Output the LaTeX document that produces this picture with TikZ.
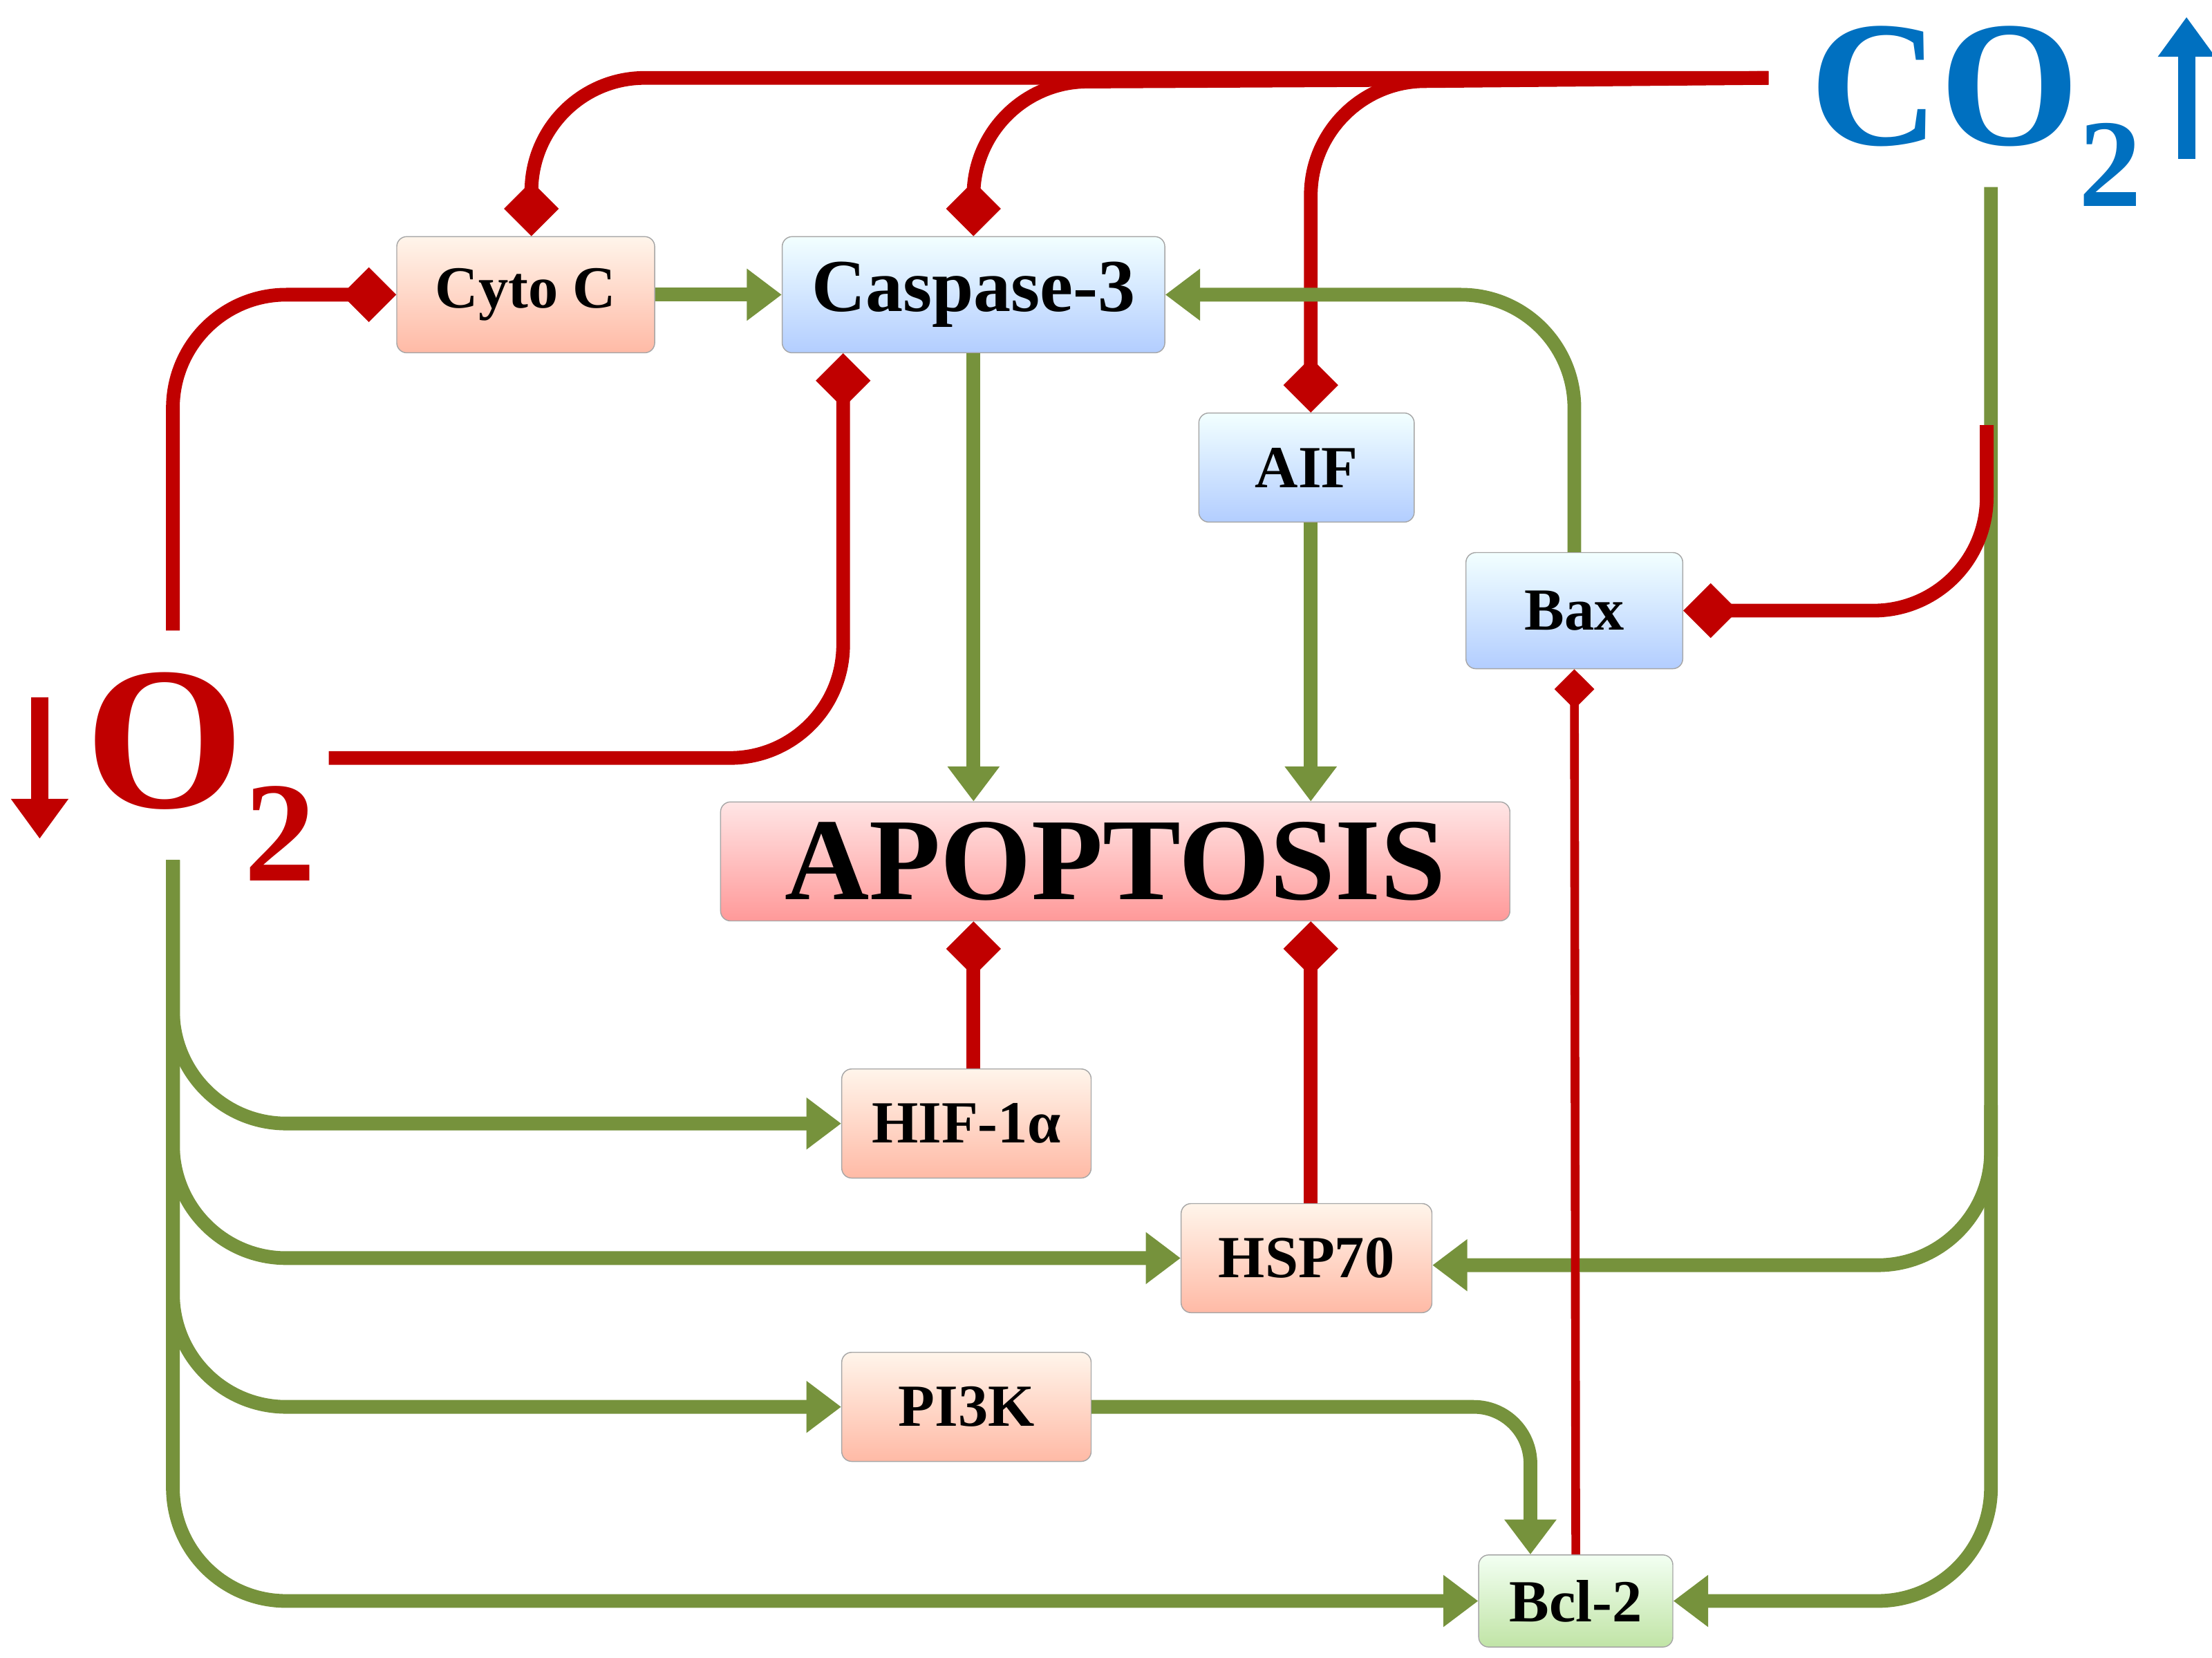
\documentclass[tikz,border=0pt]{standalone}
\usepackage{fontspec}
\setmainfont{Liberation Serif}
\usetikzlibrary{arrows.meta}
\definecolor{rd}{RGB}{192,0,0}
\definecolor{gr}{RGB}{118,146,60}
\definecolor{bl}{RGB}{0,112,192}
\begin{document}
\begin{tikzpicture}[x=0.02cm,y=-0.02cm,
 box/.style={draw=black!35,rounded corners=4pt,font=\bfseries\fontsize{24}{24}\selectfont,inner sep=0pt},
 org/.style={box,top color=orange!8,bottom color=orange!45!red!35},
 blu/.style={box,top color=cyan!5,bottom color=cyan!35!blue!30},
 inh/.style={draw=rd,line width=5.5pt,-{Diamond[length=22pt,width=22pt]},rounded corners=1.6cm},
 act/.style={draw=gr,line width=5.5pt,-{Triangle[length=14pt,width=20pt]},rounded corners=1.6cm}]
\useasboundingbox (0,0) rectangle (1561,1170);
\node[org,minimum width=182*0.02cm,minimum height=82*0.02cm] (cyto) at (371,208) {Cyto C};
\node[blu,minimum width=270*0.02cm,minimum height=82*0.02cm,font=\bfseries\fontsize{30}{30}\selectfont] (casp) at (687,208) {Caspase-3};
\node[blu,minimum width=152*0.02cm,minimum height=77*0.02cm] (aif) at (922,330) {AIF};
\node[blu,minimum width=153*0.02cm,minimum height=82*0.02cm] (bax) at (1111,431) {Bax};
\node[box,top color=red!10,bottom color=red!40,minimum width=557*0.02cm,minimum height=84*0.02cm,font=\bfseries\fontsize{47}{47}\selectfont] (apo) at (787,608) {APOPTOSIS};
\node[org,minimum width=176*0.02cm,minimum height=77*0.02cm] (hif) at (682,793) {HIF-1α};
\node[org,minimum width=177*0.02cm,minimum height=77*0.02cm] (hsp) at (922,888) {HSP70};
\node[org,minimum width=176*0.02cm,minimum height=77*0.02cm] (pi3k) at (682,993) {PI3K};
\node[box,top color=green!5,bottom color=green!40!olive!35,minimum width=137*0.02cm,minimum height=65*0.02cm] (bcl) at (1112,1130) {Bcl-2};
\node[text=rd,font=\bfseries\fontsize{82}{82}\selectfont,inner sep=0pt] (o2) at (142,548) {O\textsubscript{2}};
\node[text=bl,font=\bfseries\fontsize{72}{72}\selectfont,inner sep=0pt] (co2) at (1395,82) {CO\textsubscript{2}};
\coordinate (dA) at (28,492); \coordinate (dB) at (28,592);
\draw[rd,line width=7pt,-{Triangle[length=16pt,width=22pt]}] (dA) -- (dB);
\coordinate (uA) at (1543,112); \coordinate (uB) at (1543,12);
\draw[bl,line width=7pt,-{Triangle[length=16pt,width=22pt]}] (uA) -- (uB);
% CO2 inhibitions
\coordinate (c0) at (1248,55);
\draw[inh] (c0) -- (375,55) -- (cyto.north -| 375,0);
\draw[inh] (c0) -- (687,58) -- (casp.north);
\draw[inh] (c0) -- (925,58) -- (aif.north -| 925,0);
\coordinate (cv) at (1405,132);
\draw[act] (cv) -- (1405,1130) -- (bcl.east);
\draw[inh] (1402,300) -- (1402,431) -- (bax.east);
\draw[act] (1405,780) -- (1405,893) -- (hsp.east |- 0,893);
% O2
\coordinate (o2t) at (122,445);
\draw[inh] (o2t) -- (122,208) -- (cyto.west);
\coordinate (o2r) at (232,535);
\draw[inh] (o2r) -- (595,535) -- (casp.south -| 595,0);
\coordinate (o2b) at (122,607);
\draw[act] (o2b) -- (122,793) -- (hif.west);
\draw[act] (o2b) -- (122,888) -- (hsp.west);
\draw[act] (o2b) -- (122,993) -- (pi3k.west);
\draw[act] (o2b) -- (122,1130) -- (bcl.west);
% internal
\draw[act] (cyto) -- (casp);
\draw[act] (casp.south) -- (apo.north -| casp.south);
\draw[act] (aif.south -| 925,0) -- (apo.north -| 925,0);
\draw[act] (bax.north) -- (1111,208) -- (casp.east);
\draw[inh,rounded corners=0pt] (hif.north -| 687,0) -- (apo.south -| 687,0);
\draw[inh,rounded corners=0pt] (hsp.north -| 925,0) -- (apo.south -| 925,0);
\draw[rd,line width=3.5pt,-{Diamond[length=16pt,width=16pt]}] (bcl.north) -- (bax.south);
\draw[act,rounded corners=0.8cm] (pi3k.east) -- (1080,993) -- (bcl.north -| 1080,0);
\end{tikzpicture}
\end{document}
